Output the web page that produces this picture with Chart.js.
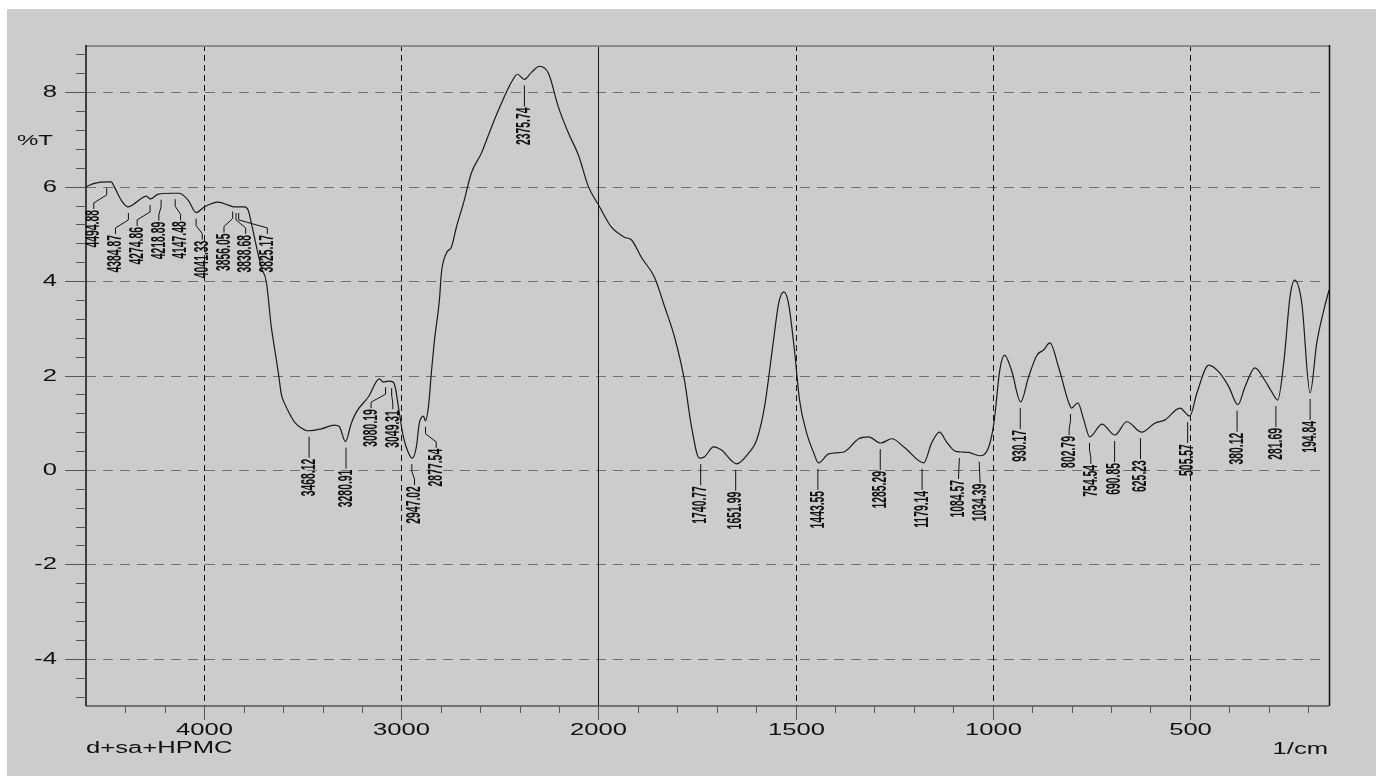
<!DOCTYPE html>
<html>
<head>
<meta charset="utf-8">
<script src="https://cdn.jsdelivr.net/npm/chart.js@4.4.1/dist/chart.umd.min.js"></script>
<style>
  html, body { margin: 0; padding: 0; background: #ffffff; }
  #wrap { width: 1376px; height: 776px; }
</style>
</head>
<body>
<div id="wrap"><canvas id="irChart" width="1376" height="776"></canvas></div>
<script>
// spectrum: wavenumber (1/cm) and %T
const waveNumbers = [4600, 4558, 4487, 4472, 4457, 4421, 4386, 4360, 4320, 4294,
    4274, 4233, 4167, 4127, 4081, 4041, 4000, 3929, 3878, 3848, 3797, 3777, 3761,
    3711, 3685, 3660, 3650, 3624, 3609, 3594, 3558, 3543, 3508, 3472, 3406, 3340,
    3315, 3284, 3254, 3228, 3167, 3112, 3091, 3066, 3041, 3030, 3015, 2990, 2964,
    2944, 2924, 2909, 2888, 2878, 2863, 2848, 2832, 2807, 2797, 2772, 2746, 2721,
    2685, 2645, 2594, 2543, 2492, 2442, 2411, 2376, 2340, 2299, 2254, 2203, 2152,
    2102, 2051, 1997, 1967, 1934, 1916, 1891, 1858, 1832, 1807, 1782, 1764, 1744,
    1731, 1708, 1688, 1650, 1619, 1599, 1579, 1556, 1543, 1530, 1518, 1503, 1490,
    1472, 1454, 1442, 1416, 1378, 1340, 1315, 1284, 1256, 1223, 1175, 1155, 1135,
    1117, 1096, 1081, 1061, 1033, 1010, 997, 982, 970, 952, 929, 909, 888, 871,
    855, 833, 807, 800, 784, 769, 754, 723, 690, 660, 622, 589, 563, 525, 500,
    482, 452, 426, 401, 378, 360, 335, 310, 292, 277, 261, 246, 234, 216, 195,
    178, 160, 147];
const transmittance = [6.0, 6.07, 6.1, 6.1, 6.0, 5.71, 5.57, 5.62, 5.75, 5.8,
    5.74, 5.84, 5.86, 5.86, 5.71, 5.45, 5.57, 5.67, 5.61, 5.57, 5.57, 5.5, 5.22,
    4.3, 3.98, 3.03, 2.75, 2.05, 1.6, 1.42, 1.12, 1.02, 0.89, 0.83, 0.87, 0.95,
    0.92, 0.6, 0.99, 1.23, 1.55, 1.93, 1.86, 1.88, 1.86, 1.73, 1.33, 0.7, 0.36,
    0.25, 0.49, 0.99, 1.14, 1.04, 1.33, 2.05, 2.75, 3.6, 4.17, 4.59, 4.72, 5.14,
    5.65, 6.29, 6.71, 7.26, 7.77, 8.21, 8.38, 8.27, 8.42, 8.55, 8.4, 7.68, 7.13,
    6.67, 6.0, 5.57, 5.14, 4.93, 4.87, 4.5, 4.08, 3.45, 2.81, 1.9, 0.91, 0.25,
    0.28, 0.49, 0.42, 0.13, 0.36, 0.63, 1.33, 2.75, 3.53, 3.77, 3.53, 2.54, 1.48,
    0.78, 0.36, 0.15, 0.34, 0.38, 0.66, 0.7, 0.57, 0.66, 0.47, 0.15, 0.57, 0.8,
    0.59, 0.4, 0.38, 0.37, 0.3, 0.49, 0.99, 2.12, 2.43, 2.1, 1.44, 1.97, 2.43, 2.54,
    2.69, 2.18, 1.42, 1.31, 1.42, 1.06, 0.7, 0.97, 0.74, 1.02, 0.8, 0.99, 1.06, 1.31, 1.14,
    1.63, 2.22, 2.07, 1.76, 1.38, 1.76, 2.16, 1.9, 1.65, 1.48, 2.33, 3.66, 4.02, 3.53, 1.63,
    2.69, 3.39, 3.81];

// picked peaks and the %T of the curve under each one
const peakWaves = [4494.88, 4384.87, 4274.86, 4218.89, 4147.48, 4041.33, 3856.05,
    3838.68, 3825.17, 3468.12, 3280.91, 3080.19, 3049.31, 2947.02, 2877.54, 2375.74,
    1740.77, 1651.99, 1443.55, 1285.29, 1179.14, 1084.57, 1034.39, 930.17, 802.79,
    754.54, 690.85, 625.23, 505.57, 380.12, 281.69, 194.84];
const peakValues = [6.1, 5.57, 5.74, 5.85, 5.86, 5.45, 5.6, 5.57, 5.57, 0.83, 0.6,
    1.88, 1.86, 0.25, 1.04, 8.27, 0.25, 0.13, 0.15, 0.57, 0.15, 0.38, 0.3, 1.44, 1.31,
    0.7, 0.74, 0.8, 1.14, 1.38, 1.48, 1.63];

const xMajorTicks = [4000, 3000, 2000, 1500, 1000, 500];
const yMajorTicks = [8, 6, 4, 2, 0, -2, -4];
const yTitle = '%T';
const xTitle = '1/cm';
const sampleName = 'd+sa+HPMC';

// the instrument compresses the axis above 2000 1/cm by half
function toAxis(w) { return w > 2000 ? 2000 + (w - 2000) / 2 : w; }

const FONT = '"Liberation Sans", Arial, sans-serif';

function stretchedText(ctx, text, x, y, align, sx, size) {
    ctx.save();
    ctx.translate(x, y);
    ctx.scale(sx, 1);
    ctx.font = size + 'px ' + FONT;
    ctx.textAlign = align;
    ctx.textBaseline = 'middle';
    ctx.fillStyle = '#111';
    ctx.fillText(text, 0, 0);
    ctx.restore();
}

const panelPlugin = {
    id: 'panel',
    beforeDraw(chart) {
        const ctx = chart.ctx;
        ctx.save();
        ctx.fillStyle = '#ffffff';
        ctx.fillRect(0, 0, chart.width, chart.height);
        ctx.fillStyle = '#cccccc';
        ctx.fillRect(7, 9, chart.width - 7, chart.height - 9);
        ctx.restore();
    },
    beforeDatasetsDraw(chart) {
        const ctx = chart.ctx, a = chart.chartArea;
        const xs = chart.scales.x, ys = chart.scales.y;
        ctx.save();
        ctx.lineWidth = 1;
        // horizontal grid
        ctx.strokeStyle = '#707070';
        ctx.setLineDash([10, 7]);
        yMajorTicks.forEach(v => {
            const y = Math.round(ys.getPixelForValue(v)) + 0.5;
            ctx.beginPath();
            ctx.moveTo(a.left, y);
            ctx.lineTo(a.right - 8, y);
            ctx.stroke();
        });
        // vertical grid
        ctx.strokeStyle = '#111';
        xMajorTicks.forEach(w => {
            const x = Math.round(xs.getPixelForValue(toAxis(w))) + 0.5;
            ctx.setLineDash(w === 2000 ? [] : [6, 4]);
            ctx.beginPath();
            ctx.moveTo(x, a.top);
            ctx.lineTo(x, a.bottom);
            ctx.stroke();
        });
        ctx.restore();
    },
    afterDatasetsDraw(chart) {
        const ctx = chart.ctx, a = chart.chartArea;
        const xs = chart.scales.x, ys = chart.scales.y;
        ctx.save();
        // frame
        ctx.lineWidth = 2;
        ctx.strokeStyle = '#8a8a8a';
        ctx.beginPath();
        ctx.moveTo(a.left, a.top + 1);
        ctx.lineTo(a.right, a.top + 1);
        ctx.stroke();
        ctx.lineWidth = 1.5;
        ctx.strokeStyle = '#555';
        ctx.beginPath();
        ctx.moveTo(a.left, a.bottom);
        ctx.lineTo(a.right, a.bottom);
        ctx.stroke();
        ctx.strokeStyle = '#111';
        ctx.beginPath();
        ctx.moveTo(a.left, a.top);
        ctx.lineTo(a.left, a.bottom);
        ctx.moveTo(a.right + 0.5, a.top);
        ctx.lineTo(a.right + 0.5, a.bottom);
        ctx.stroke();

        // y ticks: minor every 0.4, major every 2
        ctx.lineWidth = 1;
        ctx.strokeStyle = '#555';
        for (let k = -12; k <= 22; k++) {
            const v = k * 0.4;
            const y = Math.round(ys.getPixelForValue(v)) + 0.5;
            ctx.beginPath();
            ctx.moveTo(a.left - 10, y);
            ctx.lineTo(a.left, y);
            ctx.stroke();
        }
        yMajorTicks.forEach(v => {
            const y = Math.round(ys.getPixelForValue(v)) + 0.5;
            ctx.beginPath();
            ctx.moveTo(a.left - 21, y);
            ctx.lineTo(a.left, y);
            ctx.stroke();
            stretchedText(ctx, String(v), a.left - 29, y, 'right', 1.6, 16);
        });

        // x ticks: minor every 100 axis units, major at the labelled values
        for (let t = 200; t <= 3200; t += 100) {
            const x = Math.round(xs.getPixelForValue(t)) + 0.5;
            ctx.beginPath();
            ctx.moveTo(x, a.bottom);
            ctx.lineTo(x, a.bottom + 7);
            ctx.stroke();
        }
        xMajorTicks.forEach(w => {
            const x = Math.round(xs.getPixelForValue(toAxis(w))) + 0.5;
            ctx.beginPath();
            ctx.moveTo(x, a.bottom);
            ctx.lineTo(x, a.bottom + 14);
            ctx.stroke();
            stretchedText(ctx, String(w), x, a.bottom + 25, 'center', 1.6, 16);
        });

        stretchedText(ctx, yTitle, 17, 141, 'left', 1.6, 15);
        stretchedText(ctx, sampleName, a.left, a.bottom + 43, 'left', 1.6, 16);
        stretchedText(ctx, xTitle, a.right - 1, a.bottom + 44, 'right', 1.6, 16);

        // peak labels, spread apart where they crowd
        const items = peakWaves.map((w, i) => ({
            text: w.toFixed(2),
            px: xs.getPixelForValue(toAxis(w)),
            py: ys.getPixelForValue(peakValues[i])
        })).sort((p, q) => p.px - q.px);
        const gap = 21.7;
        let groups = items.map(it => ({ members: [it], start: it.px }));
        let merged = true;
        while (merged) {
            merged = false;
            for (let i = 0; i < groups.length - 1; i++) {
                const g = groups[i], h = groups[i + 1];
                if (g.start + g.members.length * gap > h.start) {
                    const m = g.members.concat(h.members);
                    const mean = m.reduce((s, it) => s + it.px, 0) / m.length;
                    groups.splice(i, 2, { members: m, start: mean - (m.length - 1) * gap / 2 });
                    merged = true;
                    break;
                }
            }
        }
        ctx.strokeStyle = '#111';
        ctx.lineWidth = 1;
        groups.forEach(g => {
            g.members.forEach((it, j) => {
                const lx = g.start + j * gap;
                const top = it.py + 27;
                ctx.beginPath();
                ctx.moveTo(it.px, it.py + 6);
                if (Math.abs(lx - it.px) > 1) {
                    ctx.lineTo(it.px, it.py + 13);
                    ctx.lineTo(lx, it.py + 21);
                }
                ctx.lineTo(lx, top);
                ctx.stroke();
                ctx.save();
                ctx.translate(lx, top + 1);
                ctx.rotate(-Math.PI / 2);
                ctx.scale(0.8, 1.6);
                ctx.font = 'bold 13px ' + FONT;
                ctx.textAlign = 'right';
                ctx.textBaseline = 'middle';
                ctx.fillStyle = '#111';
                ctx.fillText(it.text, 0, 0);
                ctx.restore();
            });
        });
        ctx.restore();
    }
};

document.addEventListener('DOMContentLoaded', function() {
    const points = waveNumbers.map((w, i) => ({ x: toAxis(w), y: transmittance[i] }));

    new Chart(document.getElementById('irChart').getContext('2d'), {
        type: 'line',
        data: {
            datasets: [{
                data: points,
                borderColor: '#1a1a1a',
                borderWidth: 1.2,
                pointRadius: 0,
                fill: false,
                cubicInterpolationMode: 'monotone'
            }]
        },
        options: {
            responsive: false,
            animation: false,
            devicePixelRatio: 1,
            layout: { padding: { left: 86, top: 45, right: 47, bottom: 70 } },
            plugins: { legend: { display: false }, tooltip: { enabled: false } },
            scales: {
                x: { type: 'linear', reverse: true, min: 147, max: 3300, display: false },
                y: { type: 'linear', min: -5, max: 9, display: false }
            }
        },
        plugins: [panelPlugin]
    });
});
</script>
</body>
</html>
